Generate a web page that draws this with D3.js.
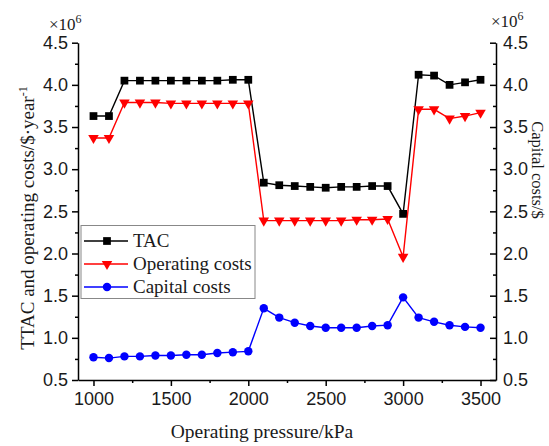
<!DOCTYPE html>
<html>
<head>
<meta charset="utf-8">
<script src="https://cdn.jsdelivr.net/npm/d3@7"></script>
<style>
  body { margin: 0; background: #fff; }
  svg { font-family: "Liberation Serif", "Times New Roman", serif; }
  .axis path, .axis line { stroke: #000; stroke-width: 1.5px; }
  .axis text { fill: #1a1a1a; font-size: 18px; }
</style>
</head>
<body>
<svg id="chart" width="549" height="446"></svg>
<script>
// pressure steps along the bottom, values in 10^6 $
const pressure = [1000, 1100, 1200, 1300, 1400, 1500, 1600, 1700, 1800, 1900, 2000,
  2100, 2200, 2300, 2400, 2500, 2600, 2700, 2800, 2900, 3000,
  3100, 3200, 3300, 3400, 3500];
const tac = [3.63, 3.63, 4.05, 4.05, 4.05, 4.05, 4.05, 4.05, 4.05, 4.06, 4.06,
  2.84, 2.81, 2.80, 2.79, 2.78, 2.79, 2.79, 2.80, 2.80, 2.47,
  4.12, 4.11, 4.00, 4.03, 4.06];
const operating = [3.37, 3.37, 3.79, 3.79, 3.79, 3.78, 3.78, 3.78, 3.78, 3.78, 3.78,
  2.39, 2.39, 2.39, 2.39, 2.39, 2.39, 2.40, 2.40, 2.41, 1.96,
  3.71, 3.71, 3.60, 3.63, 3.67];
const capital = [0.77, 0.76, 0.78, 0.78, 0.79, 0.79, 0.80, 0.80, 0.82, 0.83, 0.84,
  1.35, 1.24, 1.18, 1.14, 1.12, 1.12, 1.12, 1.14, 1.15, 1.48,
  1.24, 1.19, 1.15, 1.13, 1.12];
const xTicks = [1000, 1500, 2000, 2500, 3000, 3500];
const yTicks = [0.5, 1.0, 1.5, 2.0, 2.5, 3.0, 3.5, 4.0, 4.5];
const legendNames = ["TAC", "Operating costs", "Capital costs"];

var svg = d3.select("#chart");
var pLeft = 78, pRight = 496, pTop = 42.7, pBottom = 380;

var x = d3.scaleLinear().domain([900, 3600]).range([pLeft, pRight]);
var yL = d3.scaleLinear().domain([0.5, 4.5]).range([pBottom, pTop]);
var yR = d3.scaleLinear().domain([0.5, 4.5]).range([pBottom, pTop]);

// minor ticks first, then major ones on top
var xMinor = d3.range(1250, 3600, 500);
var yMinor = d3.range(0.75, 4.5, 0.5);

svg.append("g").attr("class", "axis")
  .attr("transform", "translate(0," + pBottom + ")")
  .call(d3.axisBottom(x).tickValues(xMinor).tickSize(3).tickFormat(""))
  .select(".domain").remove();
svg.append("g").attr("class", "axis")
  .attr("transform", "translate(" + pLeft + ",0)")
  .call(d3.axisLeft(yL).tickValues(yMinor).tickSize(3).tickFormat(""))
  .select(".domain").remove();
svg.append("g").attr("class", "axis")
  .attr("transform", "translate(" + pRight + ",0)")
  .call(d3.axisLeft(yR).tickValues(yMinor).tickSize(3).tickFormat(""))
  .select(".domain").remove();

svg.append("g").attr("class", "axis")
  .attr("transform", "translate(0," + pBottom + ")")
  .call(d3.axisBottom(x).tickValues(xTicks).tickSize(6).tickSizeOuter(0).tickPadding(6).tickFormat(d3.format("d")));
svg.append("g").attr("class", "axis")
  .attr("transform", "translate(" + pLeft + ",0)")
  .call(d3.axisLeft(yL).tickValues(yTicks).tickSize(6).tickSizeOuter(0).tickPadding(4).tickFormat(d3.format(".1f")));
var rAxis = svg.append("g").attr("class", "axis")
  .attr("transform", "translate(" + pRight + ",0)")
  .call(d3.axisLeft(yR).tickValues(yTicks).tickSize(6).tickSizeOuter(0).tickFormat(d3.format(".1f")));
rAxis.selectAll(".tick text").attr("x", 7).attr("text-anchor", "start");

// series
var series = [
  {vals: tac, y: yL, color: "#000", sym: d3.symbolSquare, size: 60, rot: 0},
  {vals: operating, y: yL, color: "#ff0000", sym: d3.symbolTriangle, size: 48, rot: 180},
  {vals: capital, y: yR, color: "#0000ff", sym: d3.symbolCircle, size: 56, rot: 0}
];

series.forEach(function(s){
  var line = d3.line()
    .x(function(d, i){ return x(pressure[i]); })
    .y(function(d){ return s.y(d); });
  svg.append("path").datum(s.vals)
    .attr("d", line)
    .attr("fill", "none")
    .attr("stroke", s.color)
    .attr("stroke-width", 1.4);
  svg.append("g").selectAll("path").data(s.vals).join("path")
    .attr("d", d3.symbol().type(s.sym).size(s.size))
    .attr("transform", function(d, i){
      return "translate(" + x(pressure[i]) + "," + s.y(d) + ") rotate(" + s.rot + ")";
    })
    .attr("fill", s.color);
});

// legend
var leg = svg.append("g");
leg.append("rect")
  .attr("x", 81).attr("y", 225.5).attr("width", 174).attr("height", 73)
  .attr("fill", "#fff").attr("stroke", "#888").attr("stroke-width", 1);
var rowY = [241, 264, 287];
series.forEach(function(s, i){
  leg.append("line")
    .attr("x1", 84).attr("x2", 128)
    .attr("y1", rowY[i]).attr("y2", rowY[i])
    .attr("stroke", s.color).attr("stroke-width", 1.4);
  leg.append("path")
    .attr("d", d3.symbol().type(s.sym).size(s.size))
    .attr("transform", "translate(107," + rowY[i] + ") rotate(" + s.rot + ")")
    .attr("fill", s.color);
  leg.append("text")
    .attr("x", 133).attr("y", rowY[i]).attr("dy", "0.33em")
    .style("font-size", "19px").attr("fill", "#1a1a1a")
    .text(legendNames[i]);
});

// titles
svg.append("text")
  .attr("x", 262).attr("y", 438)
  .attr("text-anchor", "middle").style("font-size", "19.5px").attr("fill", "#1a1a1a")
  .text("Operating pressure/kPa");

var yt = svg.append("text")
  .attr("transform", "translate(34,218) rotate(-90)")
  .attr("text-anchor", "middle").style("font-size", "19px").attr("fill", "#1a1a1a");
yt.append("tspan").text("TTAC and operating costs/$\u00b7year");
yt.append("tspan").attr("dy", -7).style("font-size", "12px").text("-1");

svg.append("text")
  .attr("transform", "translate(532,170) rotate(90)")
  .attr("text-anchor", "middle").style("font-size", "16.5px").attr("fill", "#1a1a1a")
  .text("Capital costs/$");

// x10^6 multipliers
function mult(px, py){
  var t = svg.append("text").attr("x", px).attr("y", py)
    .style("font-size", "17px").attr("fill", "#1a1a1a");
  t.append("tspan").text("\u00d710");
  t.append("tspan").attr("dy", -7).style("font-size", "12px").text("6");
}
mult(49, 30);
mult(491, 27);
</script>
</body>
</html>
